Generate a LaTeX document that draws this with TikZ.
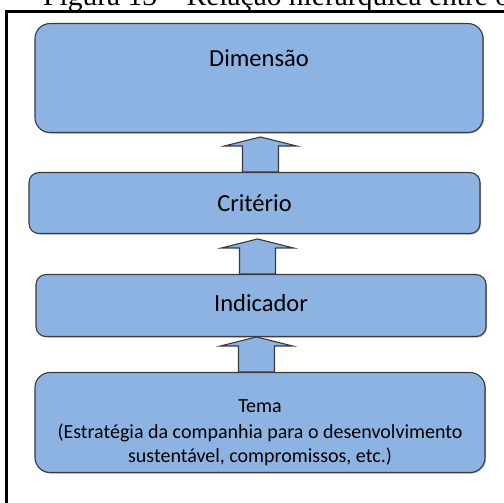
\documentclass[tikz,border=0pt]{standalone}
\usepackage{fontspec}
\setmainfont{Carlito}
\newfontfamily\capfont{Liberation Serif}
\usetikzlibrary{shadows}
\definecolor{boxblue}{HTML}{8DB3E2}
\definecolor{boxline}{HTML}{3A3A3A}

\begin{document}
\begin{tikzpicture}[x=1pt,y=1pt,
		box/.style={draw=boxline, line width=1.1pt, fill=boxblue, anchor=north,
			inner xsep=0pt, inner ysep=0pt, font=\fontsize{24.5}{29}\selectfont,
			drop shadow={shadow xshift=1pt, shadow yshift=-1pt, opacity=0.6}},
		upblock/.style={draw=boxline, line width=1.1pt, fill=boxblue},
		pics/uparrow/.style={code={
			\draw[upblock] (-18,0) -- (-18,26) -- (-36,26) -- (0,35) -- (36,26) -- (18,26) -- (18,0) -- cycle;}}]
	\clip (0,0) rectangle (504,503);
	\node[anchor=base west, inner sep=0pt, font=\capfont\fontsize{29.5}{35}\selectfont] (caption) at (43,497) {Figura 13 – Relação hierárquica entre o};
	\draw[line width=2.5pt] (6.5,-10) -- (6.5,491.5) -- (515,491.5);
	\node[box, rounded corners=15pt, minimum width=448pt, text height=42.5pt, text depth=66.5pt] (dim) at (259,480) {Dimensão};
	\node[box, rounded corners=10pt, minimum width=451pt, text height=39pt, text depth=22pt] (crit) at (254.5,331) {Critério};
	\node[box, rounded corners=10pt, minimum width=450pt, text height=37pt, text depth=25pt] (ind) at (261,229) {Indicador};
	\node[box, rounded corners=15pt, minimum width=450pt, text height=90pt, text depth=10pt, align=center, font=\fontsize{20}{24}\selectfont] (tema) at (260,131) {Tema\\[2pt](Estratégia da companhia para o desenvolvimento\\sustentável, compromissos, etc.)};
	\pic at ([xshift=6pt]crit.north) {uparrow};
	\pic at ([xshift=-3.5pt]ind.north) {uparrow};
	\pic at ([xshift=-3.5pt]tema.north) {uparrow};
\end{tikzpicture}
\end{document}
